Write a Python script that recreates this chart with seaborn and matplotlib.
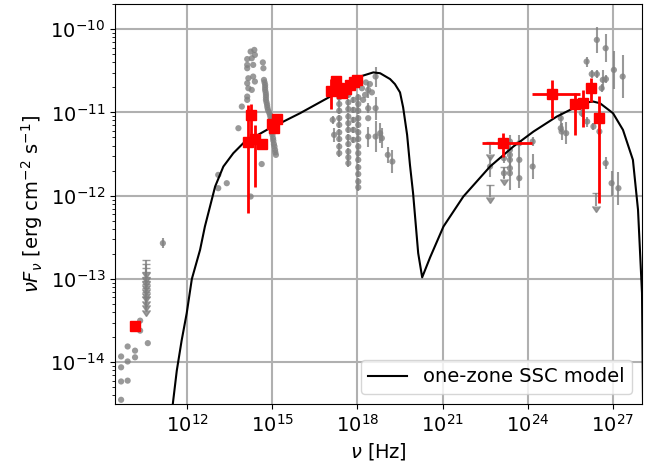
import numpy as np
import matplotlib
matplotlib.use("Agg")
import matplotlib.pyplot as plt
import seaborn as sns
from matplotlib.ticker import NullLocator, NullFormatter, LogLocator

# -------------------------------------------------------------
# one-zone SSC model (log10 nu [Hz], log10 nuFnu [erg/cm2/s])
model_lognu = [11.45, 11.50, 11.64, 11.81, 11.99, 12.17, 12.46, 12.63, 12.99, 13.28,
               13.63, 13.98, 14.81, 15.98, 17.15, 18.09, 18.56, 18.80, 19.15, 19.32,
               19.50, 19.61, 19.75, 19.85, 19.96, 20.05, 20.14, 20.28, 20.56, 21.03,
               21.73, 22.67, 23.49, 24.20, 25.02, 25.84, 26.08, 26.30, 26.54, 27.00,
               27.35, 27.70, 27.88, 28.02, 28.06]
model_logflux = [-14.70, -14.50, -14.10, -13.74, -13.41, -13.00, -12.65, -12.37, -11.89, -11.65,
                 -11.49, -11.37, -11.21, -11.01, -10.79, -10.57, -10.52, -10.53, -10.60, -10.66,
                 -10.76, -10.94, -11.27, -11.63, -11.97, -12.33, -12.69, -12.98, -12.74, -12.37,
                 -12.01, -11.65, -11.41, -11.23, -11.05, -10.91, -10.88, -10.87, -10.89, -11.01,
                 -11.21, -11.57, -12.17, -13.17, -14.60]

# -------------------------------------------------------------
# archival data (grey): log10 nu, log10 nuFnu, error in decades
grey_lognu = [
    # radio / mm
    9.68, 9.68, 9.68, 9.68, 9.91, 9.91, 9.91, 10.17, 10.17, 10.35, 10.35, 10.62, 11.15,
    # IR / optical
    14.37, 14.24, 14.39, 14.12, 14.28, 14.12, 14.33, 14.12, 14.67, 14.69, 14.16, 14.33,
    14.12, 14.39, 14.16, 14.28, 14.12, 14.12, 13.93, 13.81, 13.10, 13.40, 13.10, 14.24, 14.63,
    # UV string
    14.71, 14.73, 14.75, 14.75, 14.75, 14.77, 14.78, 14.78, 14.78, 14.80, 14.82, 14.83,
    14.85, 14.89, 14.92, 14.94, 14.96, 14.97, 14.99, 14.99, 14.99, 15.01, 15.03, 15.04,
    15.06, 15.08, 15.10, 15.11, 15.13,
    # X-ray
    17.36, 17.36, 17.36, 17.36, 17.36, 17.36, 17.36, 17.36, 17.36,
    17.68, 17.68, 17.68, 17.68, 17.68, 17.68, 17.68, 17.68, 17.68, 17.68, 17.68,
    18.03, 18.03, 18.03, 18.03, 18.03, 18.03, 18.03, 18.03, 18.03, 18.03, 18.03, 18.03, 18.03, 18.03,
    17.86, 17.86, 17.86, 17.86, 17.86,
    18.16, 18.27, 18.20, 18.44, 18.30, 18.51,
    17.13, 17.18, 18.38, 18.38, 18.38, 18.38, 18.64, 18.64, 18.64, 18.80, 18.86, 19.07, 19.23,
    # gamma-ray (GeV)
    22.67, 23.16, 23.16, 23.37, 23.37, 23.37, 23.37, 23.37, 23.37,
    23.70, 23.70, 23.70, 24.17, 24.17,
    # gamma-ray (TeV)
    26.43, 26.74, 26.07, 26.25, 26.43, 26.64, 26.75, 27.03, 27.34, 26.60,
    25.16, 25.16, 25.19, 25.35, 25.90, 26.09, 26.31, 26.52, 26.74, 26.95, 27.19,
]
grey_logflux = [
    -14.45, -14.23, -14.06, -13.93, -14.22, -13.99, -13.81, -13.86, -13.94, -13.50, -13.62, -13.77, -12.57,
    -10.25, -10.27, -10.31, -10.36, -10.35, -10.43, -10.43, -10.47, -10.40, -10.47, -10.59, -10.57,
    -10.65, -10.63, -10.71, -10.73, -10.81, -10.85, -10.93, -11.19, -11.75, -11.85, -11.91, -12.01, -11.62,
    -10.61, -10.64, -10.67, -10.70, -10.73, -10.76, -10.79, -10.82, -10.85, -10.88, -10.91, -10.94,
    -10.97, -11.00, -11.03, -11.06, -11.09, -11.13, -11.17, -11.20, -11.24, -11.27, -11.31, -11.34,
    -11.38, -11.41, -11.45, -11.48, -11.51,
    -10.82, -10.90, -10.98, -11.07, -11.15, -11.24, -11.32, -11.41, -11.49,
    -10.79, -10.88, -10.96, -11.05, -11.13, -11.21, -11.30, -11.38, -11.47, -11.54, -11.61,
    -10.82, -10.90, -10.98, -11.07, -11.15, -11.24, -11.32, -11.41, -11.49, -11.57, -11.66, -11.74, -11.83, -11.90,
    -10.85, -10.97, -11.09, -11.21, -11.33,
    -10.71, -10.79, -10.85, -10.66, -10.64, -10.76,
    -11.09, -11.27, -10.73, -10.95, -11.07, -11.29, -10.57, -10.95, -11.29, -11.25, -11.31, -11.51, -11.59,
    -11.65, -11.55, -11.73, -11.35, -11.45, -11.51, -11.57, -11.67, -11.73,
    -11.37, -11.57, -11.79, -11.35, -11.65,
    -10.13, -10.23, -10.39, -10.54, -10.54, -10.61, -10.60, -10.49, -10.57, -10.71,
    -11.07, -11.19, -11.23, -11.25, -11.01, -11.11, -11.17, -11.23, -11.61, -11.85, -11.91,
]
grey_logerr = [
    0, 0, 0, 0, 0, 0, 0, 0, 0, 0, 0, 0, 0.06,
    0, 0, 0, 0, 0, 0, 0, 0, 0, 0, 0, 0,
    0, 0, 0, 0, 0, 0, 0, 0, 0, 0, 0, 0, 0,
    0, 0, 0, 0, 0, 0, 0, 0, 0, 0, 0, 0,
    0, 0, 0, 0, 0, 0, 0, 0, 0, 0, 0, 0,
    0, 0, 0, 0, 0,
    0.04, 0.04, 0.04, 0.04, 0.04, 0.04, 0.04, 0.04, 0.04,
    0.04, 0.04, 0.04, 0.04, 0.04, 0.04, 0.04, 0.04, 0.04, 0.04, 0.04,
    0.04, 0.04, 0.04, 0.04, 0.04, 0.04, 0.04, 0.04, 0.04, 0.04, 0.04, 0.04, 0.04, 0.04,
    0.04, 0.04, 0.04, 0.04, 0.04,
    0, 0, 0, 0, 0, 0,
    0.05, 0.085, 0.10, 0.06, 0, 0.12, 0.12, 0.14, 0.19, 0.12, 0.12, 0.10, 0.14,
    0.12, 0.06, 0.06, 0.08, 0, 0, 0.10, 0, 0.20,
    0.10, 0.10, 0.12, 0.05, 0.15,
    0.16, 0.17, 0.06, 0.05, 0.05, 0.12, 0.05, 0.23, 0.26, 0.05,
    0.08, 0.05, 0.10, 0.13, 0.05, 0.06, 0.04, 0.04, 0.07, 0.15, 0.20,
]

# archival upper limits
ul_lognu = [10.56, 10.56, 10.56, 10.56, 10.56, 10.56, 10.56, 10.56, 10.56, 10.56,
            22.67, 22.67, 23.16, 26.39]
ul_logflux = [-12.77, -12.82, -12.87, -12.92, -12.97, -13.02, -13.06, -13.11, -13.16, -13.22,
              -11.35, -11.87, -11.65, -11.97]

# -------------------------------------------------------------
# simultaneous data (red): log10 values, errors in decades
red_lognu = [10.17, 14.13, 14.25, 14.38, 14.64, 15.00, 15.06, 15.17,
             17.07, 17.25, 17.35, 17.46, 17.60, 17.74, 17.88, 17.99,
             23.14, 24.86, 25.66, 25.93, 26.21, 26.51]
red_logflux = [-13.56, -11.35, -11.03, -11.32, -11.38, -11.14, -11.19, -11.08,
               -10.745, -10.62, -10.71, -10.77, -10.72, -10.67, -10.64, -10.61,
               -11.37, -10.78, -10.90, -10.89, -10.71, -11.07]
red_yerr_lo = [0, 0.86, 0.24, 0.58, 0, 0, 0, 0,
               0.22, 0.03, 0.03, 0.03, 0.03, 0.03, 0.03, 0.03,
               0.16, 0.29, 0.37, 0.28, 0.16, 1.02]
red_yerr_hi = [0, 0.44, 0.13, 0.17, 0, 0, 0, 0,
               0.15, 0.03, 0.03, 0.03, 0.03, 0.03, 0.03, 0.03,
               0.12, 0.17, 0.13, 0.16, 0.12, 0.27]
red_xerr_lo = [0, 0, 0, 0, 0, 0, 0, 0,
               0, 0, 0, 0, 0, 0, 0, 0,
               0.76, 0.72, 0, 0, 0, 0]
red_xerr_hi = [0, 0, 0, 0, 0, 0, 0, 0,
               0, 0, 0, 0, 0, 0, 0, 0,
               1.00, 0.98, 0, 0, 0, 0]

x_ticks = [1e12, 1e15, 1e18, 1e21, 1e24, 1e27]
y_ticks = [1e-14, 1e-13, 1e-12, 1e-11, 1e-10]
ul_arrow = 0.15   # arrow length of upper limits, decades


def asym_err(logval, lo, hi):
    v = 10 ** np.asarray(logval, dtype=float)
    return np.vstack([v - v * 10 ** (-np.asarray(lo)), v * 10 ** np.asarray(hi) - v])


# -------------------------------------------------------------
fig = plt.figure(figsize=(6.55, 4.65), dpi=100)
ax = fig.add_axes([0.1756, 0.1312, 0.8046, 0.8602])
ax.set_xscale('log')
ax.set_yscale('log')

# archival points
gx = 10 ** np.array(grey_lognu)
gy = 10 ** np.array(grey_logflux)
ax.errorbar(gx, gy, yerr=asym_err(grey_logflux, grey_logerr, grey_logerr),
            fmt='none', ecolor='gray', elinewidth=1.5, alpha=0.8, zorder=2)
sns.scatterplot(x=gx, y=gy, color='gray', s=20, edgecolor='none', alpha=0.8,
                ax=ax, zorder=3)

uy = 10 ** np.array(ul_logflux)
_, ul_caps, _ = ax.errorbar(10 ** np.array(ul_lognu), uy, yerr=uy * (1 - 10 ** -ul_arrow),
                            uplims=True, fmt='none', ecolor='gray', color='gray',
                            elinewidth=1.5, capsize=3, alpha=0.8, zorder=2)
for c in ul_caps:
    c.set_color('gray')
    c.set_markerfacecolor('gray')
    c.set_markeredgecolor('gray')

# model
sns.lineplot(x=10 ** np.array(model_lognu), y=10 ** np.array(model_logflux),
             color='black', linewidth=1.5, label='one-zone SSC model', ax=ax, zorder=4)

# simultaneous points
ax.errorbar(10 ** np.array(red_lognu), 10 ** np.array(red_logflux),
            xerr=asym_err(red_lognu, red_xerr_lo, red_xerr_hi),
            yerr=asym_err(red_logflux, red_yerr_lo, red_yerr_hi),
            fmt='s', color='red', ms=7, elinewidth=2, capsize=0, zorder=5)

ax.set_xlim(2.92e9, 1.05e28)
ax.set_ylim(3.16e-15, 2.0e-10)
ax.set_xticks(x_ticks)
ax.set_yticks(y_ticks)
ax.xaxis.set_minor_locator(NullLocator())
ax.yaxis.set_minor_locator(LogLocator(base=10, subs=np.arange(2, 10)))
ax.yaxis.set_minor_formatter(NullFormatter())
ax.grid(True, which='major', color='#b0b0b0', linewidth=1.5)
ax.set_axisbelow(True)

ax.tick_params(labelsize=14)
ax.set_xlabel(r'$\nu$ [Hz]', fontsize=14)
ax.set_ylabel(r'$\nu F_\nu$ [erg cm$^{-2}$ s$^{-1}$]', fontsize=14)
ax.legend(loc='lower right', fontsize=14)

fig.savefig('out.png', dpi=100)
